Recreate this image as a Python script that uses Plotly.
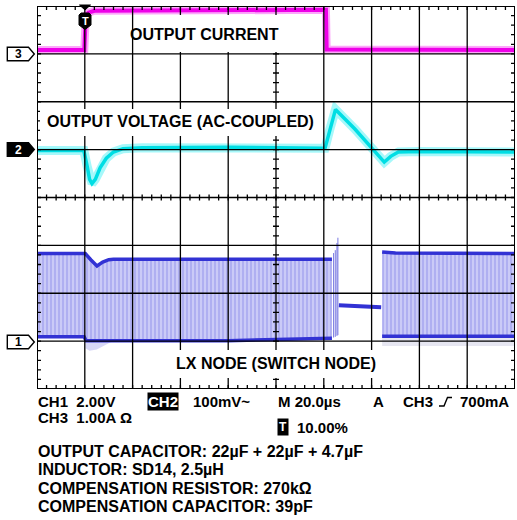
import plotly.graph_objects as go

# ---------------- data (read from the scope screen) ----------------
# time axis: 20 us/div, trigger at 10% of screen -> t from -20 to 180 us
# CH3 output current (A), 1.00 A/div, marker at +3 div
CUR_T = [-20, -0.2, 0.4, 1.5, 4, 30, 60, 100.9, 101.2, 140, 180]
CUR_A = [0.08, 0.08, 0.80, 0.86, 0.90, 0.91, 0.92, 0.92, 0.09, 0.09, 0.08]

# CH2 output voltage, AC coupled (mV), 100 mV/div, marker at +1 div
VOUT_T = [-20, -0.4, 1, 2, 3, 4.4, 6.4, 9, 12, 16, 24, 60, 100.5, 102.5, 104.9,
          113, 120.7, 123, 125.3, 128, 131.2, 140, 180]
VOUT_MV = [-2, -2, -35, -62, -71, -62, -38, -18, -5, 2, 4, 5, 3, 42, 84,
           43, 0, -15, -26, -14, -5, -4, -5]

# CH1 LX node (V), 2.00 V/div, marker at -3 div
LXA_T_HIGH = [-20, 0.2, 2.5, 5.1, 7.5, 10, 12, 60, 103.4]
LXA_V_HIGH = [3.66, 3.66, 3.40, 3.14, 3.30, 3.40, 3.42, 3.42, 3.42]
LXA_T_LOW = [-20, -0.3, 0.5, 60, 103.4]
LXA_V_LOW = [0.18, 0.18, 0.02, 0.02, 0.12]
LX_RING_T = [0.3, 2, 5, 8, 12]
LX_RING_V = [-0.30, -0.40, -0.35, -0.20, 0.0]
LX_PULSE_T = [104.1, 104.8, 105.5, 105.9]
LX_PULSE_V = [3.68, 3.80, 4.10, 4.32]
LX_PULSE_LOW = [0.15, 0.18, 0.22, 0.25]
LX_FLAT_T = [106.3, 124.0]
LX_FLAT_V = [1.50, 1.42]
LXB_T_HIGH = [124.4, 130, 180]
LXB_V_HIGH = [3.72, 3.68, 3.66]
LXB_T_LOW = [124.4, 180]
LXB_V_LOW = [0.20, 0.20]
LXB_FRINGE_V = [-0.20, -0.20]

# channel scaling (units/div) and marker offsets (div)
CH3_SCALE, CH3_POS = 1.0, 3
CH2_SCALE, CH2_POS = 100.0, 1
CH1_SCALE, CH1_POS = 2.0, -3

def ch3(v): return [CH3_POS + a / CH3_SCALE for a in v]
def ch2(v): return [CH2_POS + a / CH2_SCALE for a in v]
def ch1(v): return [CH1_POS + a / CH1_SCALE for a in v]

MAG = "rgb(238,0,232)"
CYAN = "rgb(0,222,228)"
BLUE = "rgb(50,50,212)"
FONT = "Liberation Sans, Arial, sans-serif"
NB = "\u00a0"

fig = go.Figure()

# ---- CH1 LX node ----
fig.add_trace(go.Scatter(
    x=LX_RING_T + LX_RING_T[::-1],
    y=ch1(LX_RING_V) + ch1([LXA_V_LOW[2]] * len(LX_RING_T)),
    mode="lines", fill="toself", line=dict(width=0),
    fillcolor="rgba(140,140,230,0.35)", hoverinfo="skip"))
fig.add_trace(go.Scatter(
    x=LXB_T_LOW + LXB_T_LOW[::-1],
    y=ch1(LXB_V_LOW) + ch1(LXB_FRINGE_V[::-1]),
    mode="lines", fill="toself", line=dict(width=0),
    fillcolor="rgba(200,200,225,0.45)", hoverinfo="skip"))
for th, vh, tl, vl in [(LXA_T_HIGH, LXA_V_HIGH, LXA_T_LOW, LXA_V_LOW),
                       (LXB_T_HIGH, LXB_V_HIGH, LXB_T_LOW, LXB_V_LOW)]:
    fig.add_trace(go.Scatter(
        x=th + tl[::-1], y=ch1(vh) + ch1(vl[::-1]),
        mode="lines", fill="toself", line=dict(width=0),
        fillpattern=dict(shape="|", bgcolor="rgb(202,202,247)",
                         fgcolor="rgb(125,125,230)", size=4, solidity=0.35),
        hoverinfo="skip"))
    fig.add_trace(go.Scatter(x=th, y=ch1(vh), mode="lines",
                             line=dict(color=BLUE, width=3.5), hoverinfo="skip"))
    fig.add_trace(go.Scatter(x=tl, y=ch1(vl), mode="lines",
                             line=dict(color=BLUE, width=3.5), hoverinfo="skip"))
px_, py_ = [], []
for t, hi, lo in zip(LX_PULSE_T, LX_PULSE_V, LX_PULSE_LOW):
    px_ += [t, t, None]
    py_ += ch1([lo, hi]) + [None]
fig.add_trace(go.Scatter(x=px_, y=py_, mode="lines",
                         line=dict(color="rgb(120,120,225)", width=1), hoverinfo="skip"))
fig.add_trace(go.Scatter(x=LX_FLAT_T, y=ch1(LX_FLAT_V), mode="lines",
                         line=dict(color=BLUE, width=4), hoverinfo="skip"))

# ---- CH2 output voltage ----
fig.add_trace(go.Scatter(x=VOUT_T, y=ch2(VOUT_MV), mode="lines",
                         line=dict(color="rgba(0,235,240,0.35)", width=9), hoverinfo="skip"))
fig.add_trace(go.Scatter(x=VOUT_T, y=ch2(VOUT_MV), mode="lines",
                         line=dict(color=CYAN, width=3.5), hoverinfo="skip"))

# ---- CH3 output current ----
fig.add_trace(go.Scatter(x=CUR_T, y=ch3(CUR_A), mode="lines",
                         line=dict(color="rgba(245,0,240,0.35)", width=8), hoverinfo="skip"))
fig.add_trace(go.Scatter(x=CUR_T, y=ch3(CUR_A), mode="lines",
                         line=dict(color=MAG, width=4), hoverinfo="skip"))

# ---------------- screen decoration ----------------
L, R, T, B = 37, 515, 6, 389
W, H = R - L, B - T
def PX(p): return (p - L) / W
def PY(p): return (B - p) / H

shapes = []
for k in range(1, 10):
    t = -20 + 20 * k
    shapes.append(dict(type="line", xref="x", yref="y", x0=t, x1=t, y0=-4, y1=4,
                       line=dict(color="black", width=1.3), layer="above"))
for j in range(-3, 4):
    shapes.append(dict(type="line", xref="x", yref="y", x0=-20, x1=180, y0=j, y1=j,
                       line=dict(color="black", width=1.3), layer="above"))
shapes.append(dict(type="rect", xref="x", yref="y", x0=-20, x1=180, y0=-4, y1=4,
                   line=dict(color="black", width=2), layer="above"))

ylen = 4 / 47.875
ylen3 = 3 / 47.875
xlen = 4 * 20 / 47.8
xlen3 = 3 * 20 / 47.8
p = ""
for i in range(1, 50):
    t = -20 + 4 * i
    p += f"M{t},4 L{t},{4-ylen} M{t},-4 L{t},{-4+ylen} M{t},{-ylen3} L{t},{ylen3} "
for i in range(1, 40):
    y = -4 + 0.2 * i
    p += f"M-20,{y} L{-20+xlen},{y} M180,{y} L{180-xlen},{y} M{80-xlen3},{y} L{80+xlen3},{y} "
shapes.append(dict(type="path", xref="x", yref="y", path=p,
                   line=dict(color="black", width=1.3), layer="above"))

# white label boxes
for x0, x1, y0, y1 in [(134, 281, 15, 52), (40, 318, 109, 136), (173, 378, 350, 378)]:
    shapes.append(dict(type="rect", xref="paper", yref="paper",
                       x0=PX(x0), x1=PX(x1), y0=PY(y1), y1=PY(y0),
                       line=dict(width=0), fillcolor="white", layer="above"))

# channel markers
def marker(cy, filled):
    pts = [(7.3, cy - 6.7), (28.5, cy - 6.7), (34.3, cy), (28.5, cy + 6.7), (7.3, cy + 6.7)]
    path = "M" + " L".join(f"{PX(a)},{PY(b)}" for a, b in pts) + " Z"
    shapes.append(dict(type="path", xref="paper", yref="paper", path=path,
                       fillcolor="black" if filled else "white",
                       line=dict(color="black", width=1.4), layer="above"))
marker(54, False)
marker(149.5, True)
marker(342, False)

# trigger marker
tx = 85
tri = [(tx - 5.5, 5), (tx + 5.5, 5), (tx, 10)]
shapes.append(dict(type="path", xref="paper", yref="paper",
                   path="M" + " L".join(f"{PX(a)},{PY(b)}" for a, b in tri) + " Z",
                   fillcolor="black", line=dict(color="black", width=1), layer="above"))
tb = [(tx - 6, 15), (tx - 4, 13), (tx + 4, 13), (tx + 6, 15), (tx + 6, 25), (tx, 29.5), (tx - 6, 25)]
shapes.append(dict(type="path", xref="paper", yref="paper",
                   path="M" + " L".join(f"{PX(a)},{PY(b)}" for a, b in tb) + " Z",
                   fillcolor="black", line=dict(color="black", width=1), layer="above"))

# rising edge symbol in the info line
edge = [(439, 406), (444, 406), (447.5, 397.5), (452, 397.5)]
shapes.append(dict(type="path", xref="paper", yref="paper",
                   path="M" + " L".join(f"{PX(a)},{PY(b)}" for a, b in edge),
                   line=dict(color="black", width=1.4), layer="above"))

annots = []
def txt(x, y, s, size=16, color="black", anchor="left", bg=None, pad=0):
    annots.append(dict(x=PX(x), y=PY(y), xref="paper", yref="paper", text="<b>" + s + "</b>",
                       showarrow=False, xanchor=anchor, yanchor="middle",
                       font=dict(family=FONT, size=size, color=color),
                       bgcolor=bg, borderpad=pad))

txt(204, 34, "OUTPUT CURRENT", 16, anchor="center")
txt(180.7, 121.7, "OUTPUT VOLTAGE (AC-COUPLED)", 16, anchor="center")
txt(275.7, 363.3, "LX NODE (SWITCH NODE)", 16, anchor="center")

txt(18, 54, "3", 12, anchor="center")
txt(18, 149.5, "2", 12, color="white", anchor="center")
txt(18, 342, "1", 12, anchor="center")
txt(85, 20.5, "T", 11, color="white", anchor="center")

INFO = 15
txt(36.7, 401, "CH1" + NB + NB + "2.00V", INFO)
txt(147, 401, "CH2", INFO, color="white", bg="black")
txt(191.7, 401, "100mV~", INFO)
txt(276.7, 401, "M 20.0µs", INFO)
txt(372, 401, "A", INFO)
txt(401.7, 401, "CH3", INFO)
txt(459, 401, "700mA", INFO)
txt(36.7, 417.5, "CH3" + NB + NB + "1.00A Ω", INFO)
txt(277, 427, "T", 12, color="white", bg="black", pad=1)
txt(296, 427, "10.00%", INFO)

NOTES = ["OUTPUT CAPACITOR: 22µF + 22µF + 4.7µF",
         "INDUCTOR: SD14, 2.5µH",
         "COMPENSATION RESISTOR: 270kΩ",
         "COMPENSATION CAPACITOR: 39pF"]
for i, s in enumerate(NOTES):
    txt(36.7, 451.5 + 18.3 * i, s, 16)

fig.update_layout(
    width=517, height=520,
    margin=dict(l=L, r=517 - R, t=T, b=520 - B),
    paper_bgcolor="white", plot_bgcolor="white",
    showlegend=False,
    xaxis=dict(range=[-20, 180], showgrid=False, zeroline=False, showticklabels=False,
               ticks="", showline=False, fixedrange=True),
    yaxis=dict(range=[-4, 4], showgrid=False, zeroline=False, showticklabels=False,
               ticks="", showline=False, fixedrange=True),
    shapes=shapes, annotations=annots,
)

fig.write_html("out.html", config={"displayModeBar": False},
               post_script="document.body.style.margin='0';document.body.style.overflow='hidden';")
